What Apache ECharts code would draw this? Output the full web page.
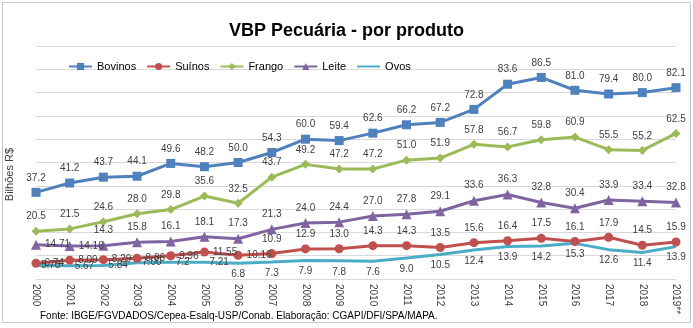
<!DOCTYPE html>
<html>
<head>
<meta charset="utf-8">
<script src="https://cdn.jsdelivr.net/npm/echarts@6/dist/echarts.min.js"></script>
<style>
html,body{margin:0;padding:0;background:#fff;}
#c{width:693px;height:328px;}
</style>
</head>
<body>
<div id="c"></div>
<script>
const years = ['2000','2001','2002','2003','2004','2005','2006','2007','2008','2009','2010','2011','2012','2013','2014','2015','2016','2017','2018','2019**'];
const bovinos = ['37.2','41.2','43.7','44.1','49.6','48.2','50.0','54.3','60.0','59.4','62.6','66.2','67.2','72.8','83.6','86.5','81.0','79.4','80.0','82.1'];
const suinos  = ['6.74','8.09','8.29','8.86','9.96','11.55','10.16','10.9','12.9','13.0','14.3','14.3','13.5','15.6','16.4','17.5','16.1','17.9','14.5','15.9'];
const frango  = ['20.5','21.5','24.6','28.0','29.8','35.6','32.5','43.7','49.2','47.2','47.2','51.0','51.9','57.8','56.7','59.8','60.9','55.5','55.2','62.5'];
const leite   = ['14.71','14.16','14.3','15.8','16.1','18.1','17.3','21.3','24.0','24.4','27.0','27.8','29.1','33.6','36.3','32.8','30.4','33.9','33.4','32.8'];
const ovos    = ['5.75','5.67','5.84','7.00','7.2','7.21','6.8','7.3','7.9','7.8','7.6','9.0','10.5','12.4','13.9','14.2','15.3','12.6','11.4','13.9'];

const FONT = 'Liberation Sans';
const labelBase = {show:true, fontSize:10, color:'#404040', fontFamily:FONT};

function mk(name, vals, color, symbol, size, defPos, rightCount, hideSymbol) {
  return {
    name: name, type:'line', data: vals.map((v,i)=>{
      const item = {value:Number(v)};
      if (i < rightCount) item.label = {position:'right', distance:4};
      return item;
    }),
    symbol: symbol, symbolSize: size, showSymbol: true,
    lineStyle:{color:color, width:3},
    itemStyle:{color: hideSymbol ? 'rgba(0,0,0,0)' : color},
    label: Object.assign({}, labelBase, {position:defPos, formatter:p=>vals[p.dataIndex]}),
    emphasis:{disabled:true},
    z: 2
  };
}

const chart = echarts.init(document.getElementById('c'));
chart.setOption({
  animation:false,
  backgroundColor:'#fff',
  title:{text:'VBP Pecuária - por produto', left:'center', top:17,
    textStyle:{fontFamily:FONT, fontSize:18, fontWeight:'bold', color:'#000'}},
  legend:{left:63, top:56, itemWidth:23, itemHeight:9, itemGap:10,
    textStyle:{fontFamily:FONT, fontSize:11, color:'#000'},
    data:['Bovinos','Suínos','Frango','Leite','Ovos']},
  grid:{left:36, right:17, top:46, bottom:49},
  xAxis:{type:'category', data:years, boundaryGap:false,
    axisLine:{lineStyle:{color:'#d9d9d9'}}, axisTick:{show:false},
    axisLabel:{rotate:-90, fontSize:10, color:'#404040', fontFamily:FONT, margin:5, interval:0}},
  yAxis:{type:'value', min:0, max:100, interval:10,
    axisLabel:{show:false}, axisLine:{show:false}, axisTick:{show:false},
    splitLine:{lineStyle:{color:'#d9d9d9'}}},
  graphic:[
    {type:'rect', shape:{x:2.5, y:2.5, width:688, height:320}, style:{fill:'none', stroke:'#c8c8c8', lineWidth:1}, silent:true, z:-1},
    {type:'text', left:4, top:148, rotation:Math.PI/2, style:{text:'Bilhões R$', fontFamily:FONT, fontSize:11, fill:'#404040'}},
    {type:'text', left:40, top:311, style:{text:'Fonte: IBGE/FGVDADOS/Cepea-Esalq-USP/Conab. Elaboração: CGAPI/DFI/SPA/MAPA.', fontFamily:FONT, fontSize:10, fill:'#000'}}
  ],
  series:[
    mk('Bovinos', bovinos, '#4F81BD', 'rect', 9, 'top', 0, false),
    mk('Suínos', suinos, '#C0504D', 'circle', 9, 'top', 7, false),
    mk('Frango', frango, '#9BBB59', 'diamond', 9, 'top', 0, false),
    mk('Leite', leite, '#8064A2', 'triangle', 10, 'top', 2, false),
    mk('Ovos', ovos, '#4BACC6', 'circle', 2, 'bottom', 6, true)
  ]
});
</script>
</body>
</html>
